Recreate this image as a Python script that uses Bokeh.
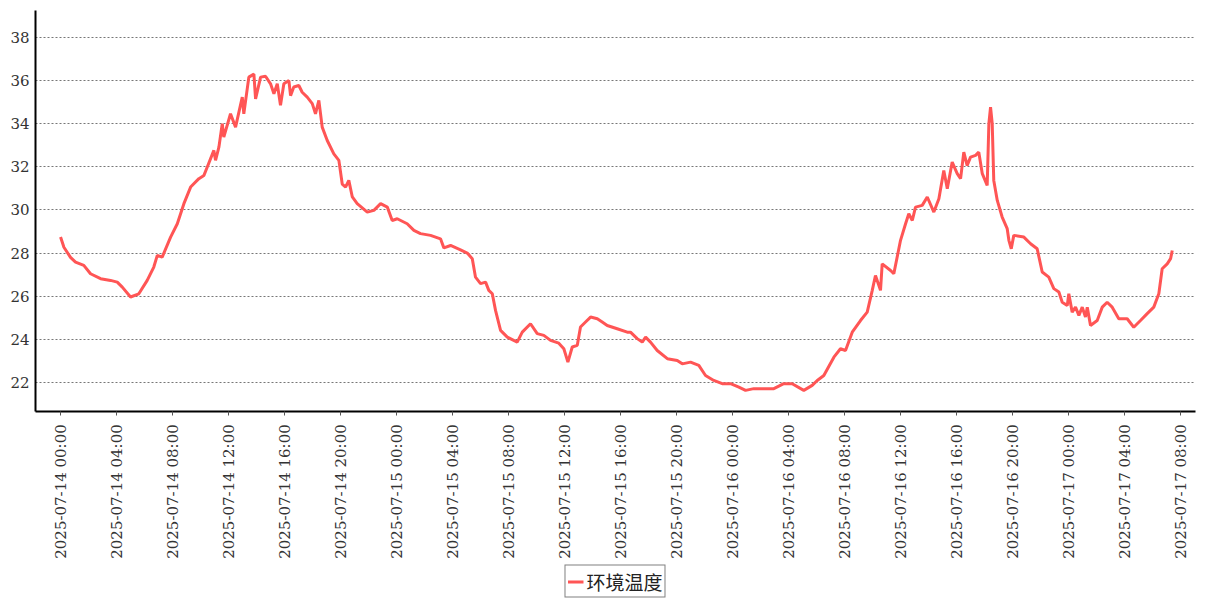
import math
import pandas as pd
from bokeh.plotting import figure
from bokeh.layouts import column
from bokeh.models import (Range1d, FixedTicker, DatetimeTickFormatter, Legend,
                          LegendItem, ColumnDataSource)
from bokeh.embed import file_html
from bokeh.resources import INLINE

# ---- data ----
start = "2025-07-14 00:00"
series_name = "环境温度"
hours = [0.00, 0.24, 0.71, 1.07, 1.66, 2.14, 2.86, 3.57, 4.05, 4.41, 5.00, 5.59,
         6.19, 6.66, 6.91, 7.26, 7.86, 8.34, 8.81, 9.29, 9.88, 10.24, 10.48, 10.95,
         11.07, 11.31, 11.55, 11.66, 12.14, 12.50, 12.98, 13.09, 13.45, 13.81, 13.93,
         14.29, 14.64, 15.00, 15.24, 15.48, 15.71, 15.95, 16.31, 16.43, 16.66, 17.02,
         17.26, 17.62, 17.98, 18.21, 18.45, 18.69, 19.05, 19.52, 19.88, 20.12, 20.36,
         20.59, 20.84, 21.19, 21.91, 22.38, 22.86, 23.34, 23.69, 24.05, 24.76, 25.24,
         25.71, 26.43, 27.14, 27.38, 27.86, 28.57, 29.05, 29.41, 29.64, 30.00, 30.36,
         30.59, 30.84, 31.07, 31.43, 31.91, 32.62, 32.98, 33.57, 34.05, 34.52, 35.00,
         35.59, 35.95, 36.24, 36.55, 36.91, 37.14, 37.50, 37.86, 38.34, 38.69, 39.05,
         39.76, 40.48, 40.71, 41.19, 41.55, 41.79, 42.14, 42.62, 43.34, 44.05, 44.41,
         45.00, 45.59, 46.07, 46.66, 47.26, 47.86, 48.45, 48.93, 49.52, 50.24, 50.95,
         51.66, 52.26, 53.09, 53.69, 54.05, 54.52, 55.24, 55.71, 56.07, 56.55, 57.14,
         57.62, 57.98, 58.21, 58.57, 58.69, 59.29, 59.52, 60.00, 60.36, 60.59, 60.84,
         61.07, 61.55, 61.91, 62.38, 62.74, 63.09, 63.34, 63.69, 64.05, 64.29, 64.52,
         64.76, 65.00, 65.36, 65.59, 65.84, 66.19, 66.31, 66.43, 66.55, 66.66, 66.91,
         67.26, 67.62, 67.74, 67.91, 68.09, 68.81, 69.29, 69.76, 70.12, 70.59, 70.95,
         71.31, 71.55, 71.91, 72.02, 72.26, 72.50, 72.74, 72.98, 73.21, 73.34, 73.57,
         74.05, 74.41, 74.76, 75.12, 75.59, 76.19, 76.66, 77.14, 77.62, 78.09, 78.45,
         78.69, 79.05, 79.29, 79.41]
temps = [28.74, 28.27, 27.80, 27.58, 27.43, 27.04, 26.81, 26.73, 26.65, 26.42, 25.96, 26.11,
         26.73, 27.35, 27.89, 27.81, 28.74, 29.36, 30.29, 31.06, 31.45, 31.60, 31.99, 32.76,
         32.30, 32.91, 34.00, 33.38, 34.46, 33.84, 35.23, 34.46, 36.16, 36.30, 35.15,
         36.16, 36.20, 35.85, 35.39, 35.85, 34.85, 35.85, 36.00, 35.30, 35.70, 35.77,
         35.46, 35.23, 34.93, 34.46, 35.08, 33.84, 33.22, 32.60, 32.30, 31.20, 31.06,
         31.37, 30.60, 30.29, 29.90, 29.98, 30.29, 30.13, 29.51, 29.59, 29.36, 29.05,
         28.90, 28.82, 28.66, 28.24, 28.35, 28.15, 28.00, 27.74, 26.88, 26.58, 26.65,
         26.27, 26.11, 25.34, 24.41, 24.10, 23.87, 24.33, 24.72, 24.26, 24.18, 23.95,
         23.82, 23.56, 22.94, 23.64, 23.72, 24.57, 24.80, 25.03, 24.95, 24.80, 24.64,
         24.49, 24.33, 24.33, 24.03, 23.87, 24.10, 23.87, 23.48, 23.10, 23.02, 22.86,
         22.94, 22.79, 22.32, 22.09, 21.94, 21.94, 21.78, 21.63, 21.71, 21.71, 21.71,
         21.94, 21.94, 21.63, 21.86, 22.09, 22.32, 23.17, 23.56, 23.48, 24.33, 24.87,
         25.26, 26.27, 26.96, 26.27, 27.50, 27.19, 27.04, 28.59, 29.36, 29.82, 29.51,
         30.13, 30.21, 30.60, 29.90, 30.52, 31.83, 30.98, 32.22, 31.68, 31.45, 32.68,
         32.06, 32.45, 32.53, 32.68, 31.68, 31.14, 34.00, 34.77, 34.00, 31.37, 30.44,
         29.67, 29.13, 28.59, 28.20, 28.82, 28.74, 28.43, 28.20, 27.12, 26.88, 26.35,
         26.19, 25.72, 25.57, 26.11, 25.26, 25.49, 25.11, 25.49, 25.03, 25.49, 24.64,
         24.87, 25.49, 25.72, 25.49, 24.95, 24.95, 24.56, 24.87, 25.19, 25.49, 26.11,
         27.27, 27.50, 27.74, 28.12]
y_ticks = [22, 24, 26, 28, 30, 32, 34, 36, 38]
x_tick_labels = pd.date_range("2025-07-14 00:00", "2025-07-17 08:00", freq="4h")

# ---- build ----
t0 = pd.Timestamp(start)
times = [t0 + pd.Timedelta(hours=h) for h in hours]
src = ColumnDataSource(dict(t=times, v=temps))

def ms(ts):
    return ts.value / 1e6

x_lo = ms(t0 - pd.Timedelta(hours=1.79))
x_hi = ms(t0 + pd.Timedelta(hours=81.07))

FONT = "DejaVu Serif"
LINE_COLOR = "#ff5555"

p = figure(width=1207, height=562, x_axis_type="datetime",
           output_backend="svg", toolbar_location=None,
           x_range=Range1d(x_lo, x_hi), y_range=Range1d(20.65, 39.25),
           min_border_left=35, min_border_top=10, min_border_right=12,
           min_border_bottom=151)
p.outline_line_color = None
p.background_fill_color = "white"
p.border_fill_color = "white"

r = p.line("t", "v", source=src, line_color=LINE_COLOR, line_width=3)

p.xgrid.visible = False
p.ygrid.grid_line_color = "#777777"
p.ygrid.grid_line_dash = "2 2"
p.ygrid.grid_line_width = 1

ya = p.yaxis[0]
ya.ticker = FixedTicker(ticks=y_ticks)
ya.axis_line_width = 2
ya.axis_line_color = "black"
ya.major_tick_line_color = None
ya.minor_tick_line_color = None
ya.major_tick_out = 0
ya.major_tick_in = 0
ya.major_label_standoff = 6
ya.major_label_text_font = FONT
ya.major_label_text_font_size = "15px"
ya.major_label_text_color = "#333333"

xa = p.xaxis[0]
xa.ticker = FixedTicker(ticks=[ms(t) for t in x_tick_labels])
xa.formatter = DatetimeTickFormatter(hours="%Y-%m-%d  %H:%M", days="%Y-%m-%d  %H:%M",
                                     hourmin="%Y-%m-%d  %H:%M", minutes="%Y-%m-%d  %H:%M")
xa.axis_line_width = 2
xa.axis_line_color = "black"
xa.major_tick_out = 4
xa.major_tick_in = 0
xa.major_tick_line_color = "#555555"
xa.minor_tick_line_color = None
xa.major_label_orientation = math.pi / 2
xa.major_label_standoff = 4
xa.major_label_text_font = FONT
xa.major_label_text_font_size = "15px"
xa.major_label_text_color = "#333333"

# legend strip below the chart (same series, ranges chosen so only the legend shows)
p2 = figure(width=1207, height=38, output_backend="svg", toolbar_location=None,
            x_axis_location=None, y_axis_location=None, min_border=0,
            x_axis_type="datetime",
            x_range=Range1d(x_lo, x_hi), y_range=Range1d(0, 1))
p2.outline_line_color = None
p2.grid.visible = False
r2 = p2.line("t", "v", source=src, line_color=LINE_COLOR, line_width=3)

legend = Legend(items=[LegendItem(label=series_name, renderers=[r2])],
                location="center", orientation="horizontal",
                border_line_color="black", border_line_width=1,
                background_fill_color="white",
                label_text_font="Noto Sans CJK SC", label_text_font_size="19px",
                label_text_line_height=1.0,
                label_text_color="#222222",
                glyph_width=16, glyph_height=18, label_height=20,
                label_standoff=3, padding=2, margin=0, spacing=0)
p2.add_layout(legend, "center")

layout = column(p, p2, spacing=0)
open("out.html", "w").write(file_html(layout, INLINE))
